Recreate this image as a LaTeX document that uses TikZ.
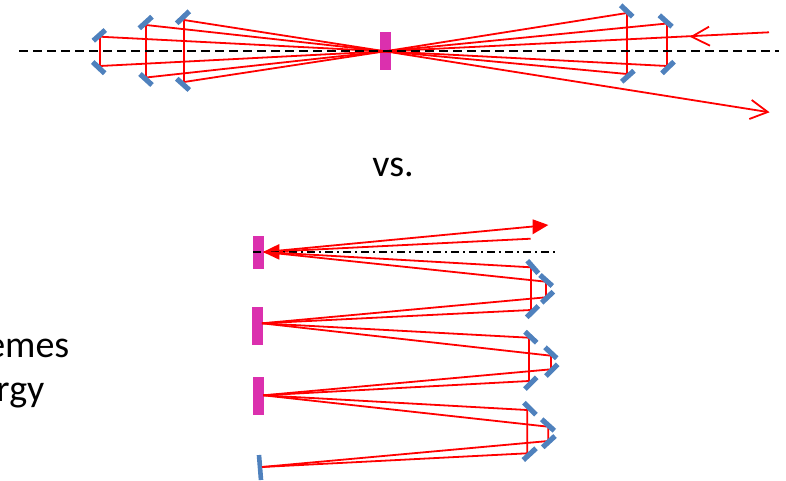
\documentclass[tikz,border=0pt]{standalone}
\usepackage{fontspec}
\setmainfont{Carlito}
\definecolor{mirrorblue}{HTML}{4F81BD}
\definecolor{crystalpink}{HTML}{DB30AE}
\tikzset{
  mirror/.style={draw=mirrorblue,line width=5.2pt},
  ray/.style={draw=red,line width=1.8pt},
  crystal/.style={fill=crystalpink,draw=none,inner sep=0pt,minimum width=10.6pt},
  axisdash/.style={draw=black,line width=1.7pt,dash pattern=on 8.5pt off 5.5pt},
  axisdot/.style={draw=black,line width=1.2pt,dash pattern=on 8pt off 4pt on 2pt off 4pt},
  headfill/.style={fill=red,draw=none},
  label/.style={font=\fontsize{38}{44}\selectfont,inner sep=0pt,text=black}
}
\begin{document}
\begin{tikzpicture}[x=1pt,y=-1pt]
\useasboundingbox (0,0) rectangle (786,480);
% === top: crystal
\node[crystal,minimum height=38pt] (top) at (385.3,51) {};
\coordinate (F) at (385,51.3);
% left rays
\coordinate (La) at (100,36.7); \coordinate (Lb) at (100,66);
\coordinate (Lc) at (146,25); \coordinate (Ld) at (146,77.5);
\coordinate (Le) at (184,20); \coordinate (Lf) at (184,82);
% right rays
\coordinate (Ra) at (627,13); \coordinate (Rb) at (627,74);
\coordinate (Rc) at (667,23.5); \coordinate (Rd) at (667,66);
\coordinate (In) at (769,32.3); \coordinate (Out) at (767.7,112);
\coordinate (InHead) at (691.7,36.7); \coordinate (InA) at (709,26.7); \coordinate (InB) at (710,45.7);
\coordinate (OutA) at (751.7,100); \coordinate (OutB) at (749.3,119);
\draw[ray] (La)--(Lb) (Lc)--(Ld) (Le)--(Lf) (Ra)--(Rb) (Rc)--(Rd);
\foreach \p in {La,Lb,Lc,Ld,Le,Lf,Ra,Rb,Rc,Rd,In,Out}{\draw[ray] (F)--(\p);}
\draw[ray] (InA)--(InHead)--(InB);
\draw[ray] (OutA)--(Out)--(OutB);
\draw[axisdash] (19,51.3)--(779,51.3);
% top mirrors
\draw[mirror] (93.3,40.7)--(105.3,30);
\draw[mirror] (92.7,62)--(104.7,73.3);
\draw[mirror] (139.3,28.3)--(152,16.7);
\draw[mirror] (140,74)--(152,85);
\draw[mirror] (176.7,23.3)--(189.3,11.3);
\draw[mirror] (176.7,78.7)--(189.3,90);
\draw[mirror] (620.7,5.3)--(632.7,16.7);
\draw[mirror] (621.7,81.7)--(634,70.7);
\draw[mirror] (659.3,15.3)--(672,26.7);
\draw[mirror] (662,73.3)--(674,61.7);
% text
\node[label,anchor=base] (vs) at (393,176) {vs.};
\node[label,anchor=base east] (t1) at (69.5,357) {emes};
\node[label,anchor=base east] (t2) at (44.5,401) {rgy};
% === bottom crystals
\node[crystal,minimum height=32.7pt] (c1) at (258.6,252.3) {};
\node[crystal,minimum height=37.4pt] (c2) at (257.6,326) {};
\node[crystal,minimum height=37.7pt] (c3) at (258.6,395.9) {};
\draw[mirror,line width=4.6pt] (259,455)--(261,480);
\coordinate (F1) at (264,252); \coordinate (F2) at (262,323.3);
\coordinate (F3) at (263.3,395.3); \coordinate (E) at (262,467);
% output and input
\coordinate (OutEnd) at (535,226.3); \coordinate (OutTip) at (548.3,225);
\coordinate (OutHa) at (532.7,219.3); \coordinate (OutHb) at (532.7,234.3);
\coordinate (InStart) at (530.7,238.7); \coordinate (InTip) at (263,252);
\coordinate (InHa) at (279.3,244); \coordinate (InHb) at (279.3,259.7);
\draw[ray] (F1)--(OutEnd);
\fill[headfill] (OutTip)--(OutHa)--(OutHb)--cycle;
\draw[ray] (InStart)--(InHa |- 0,251.3);
\fill[headfill] (InTip)--(InHa)--(InHb)--cycle;
\draw[axisdot] (253,252)--(556,252);
% group 1
\coordinate (Aa) at (531,267.3); \coordinate (Ab) at (531,310);
\coordinate (Ac) at (546,281.7); \coordinate (Ad) at (546,297.3);
\draw[ray] (F1)--(Aa)--(Ab)--(F2);
\draw[ray] (F1)--(Ac)--(Ad)--(F2);
\draw[mirror] (527.3,260.7)--(538.3,273.3);
\draw[mirror] (526.7,317.3)--(538.3,306);
\draw[mirror] (540,275)--(552.3,286);
\draw[mirror] (541.7,302.7)--(553.3,291.7);
% group 2
\coordinate (Ba) at (529,337.7); \coordinate (Bb) at (529,381);
\coordinate (Bc) at (551,355.7); \coordinate (Bd) at (551,369.3);
\draw[ray] (F2)--(Ba)--(Bb)--(F3);
\draw[ray] (F2)--(Bc)--(Bd)--(F3);
\draw[mirror] (525,331.7)--(536.7,342.7);
\draw[mirror] (545,347.3)--(556.7,358.3);
\draw[mirror] (546,376)--(557.7,364.3);
\draw[mirror] (525,389)--(536.7,377.3);
% group 3
\coordinate (Ca) at (527.3,410); \coordinate (Cb) at (527.3,453.3);
\coordinate (Cc) at (548.3,426.7); \coordinate (Cd) at (548.3,441);
\draw[ray] (F3)--(Ca)--(Cb)--(E);
\draw[ray] (F3)--(Cc)--(Cd)--(E);
\draw[mirror] (524,402.7)--(536,414.7);
\draw[mirror] (541.7,419.3)--(554.3,430.7);
\draw[mirror] (542.7,447.3)--(555,436);
\draw[mirror] (523.3,460)--(536,448.3);
\end{tikzpicture}
\end{document}
